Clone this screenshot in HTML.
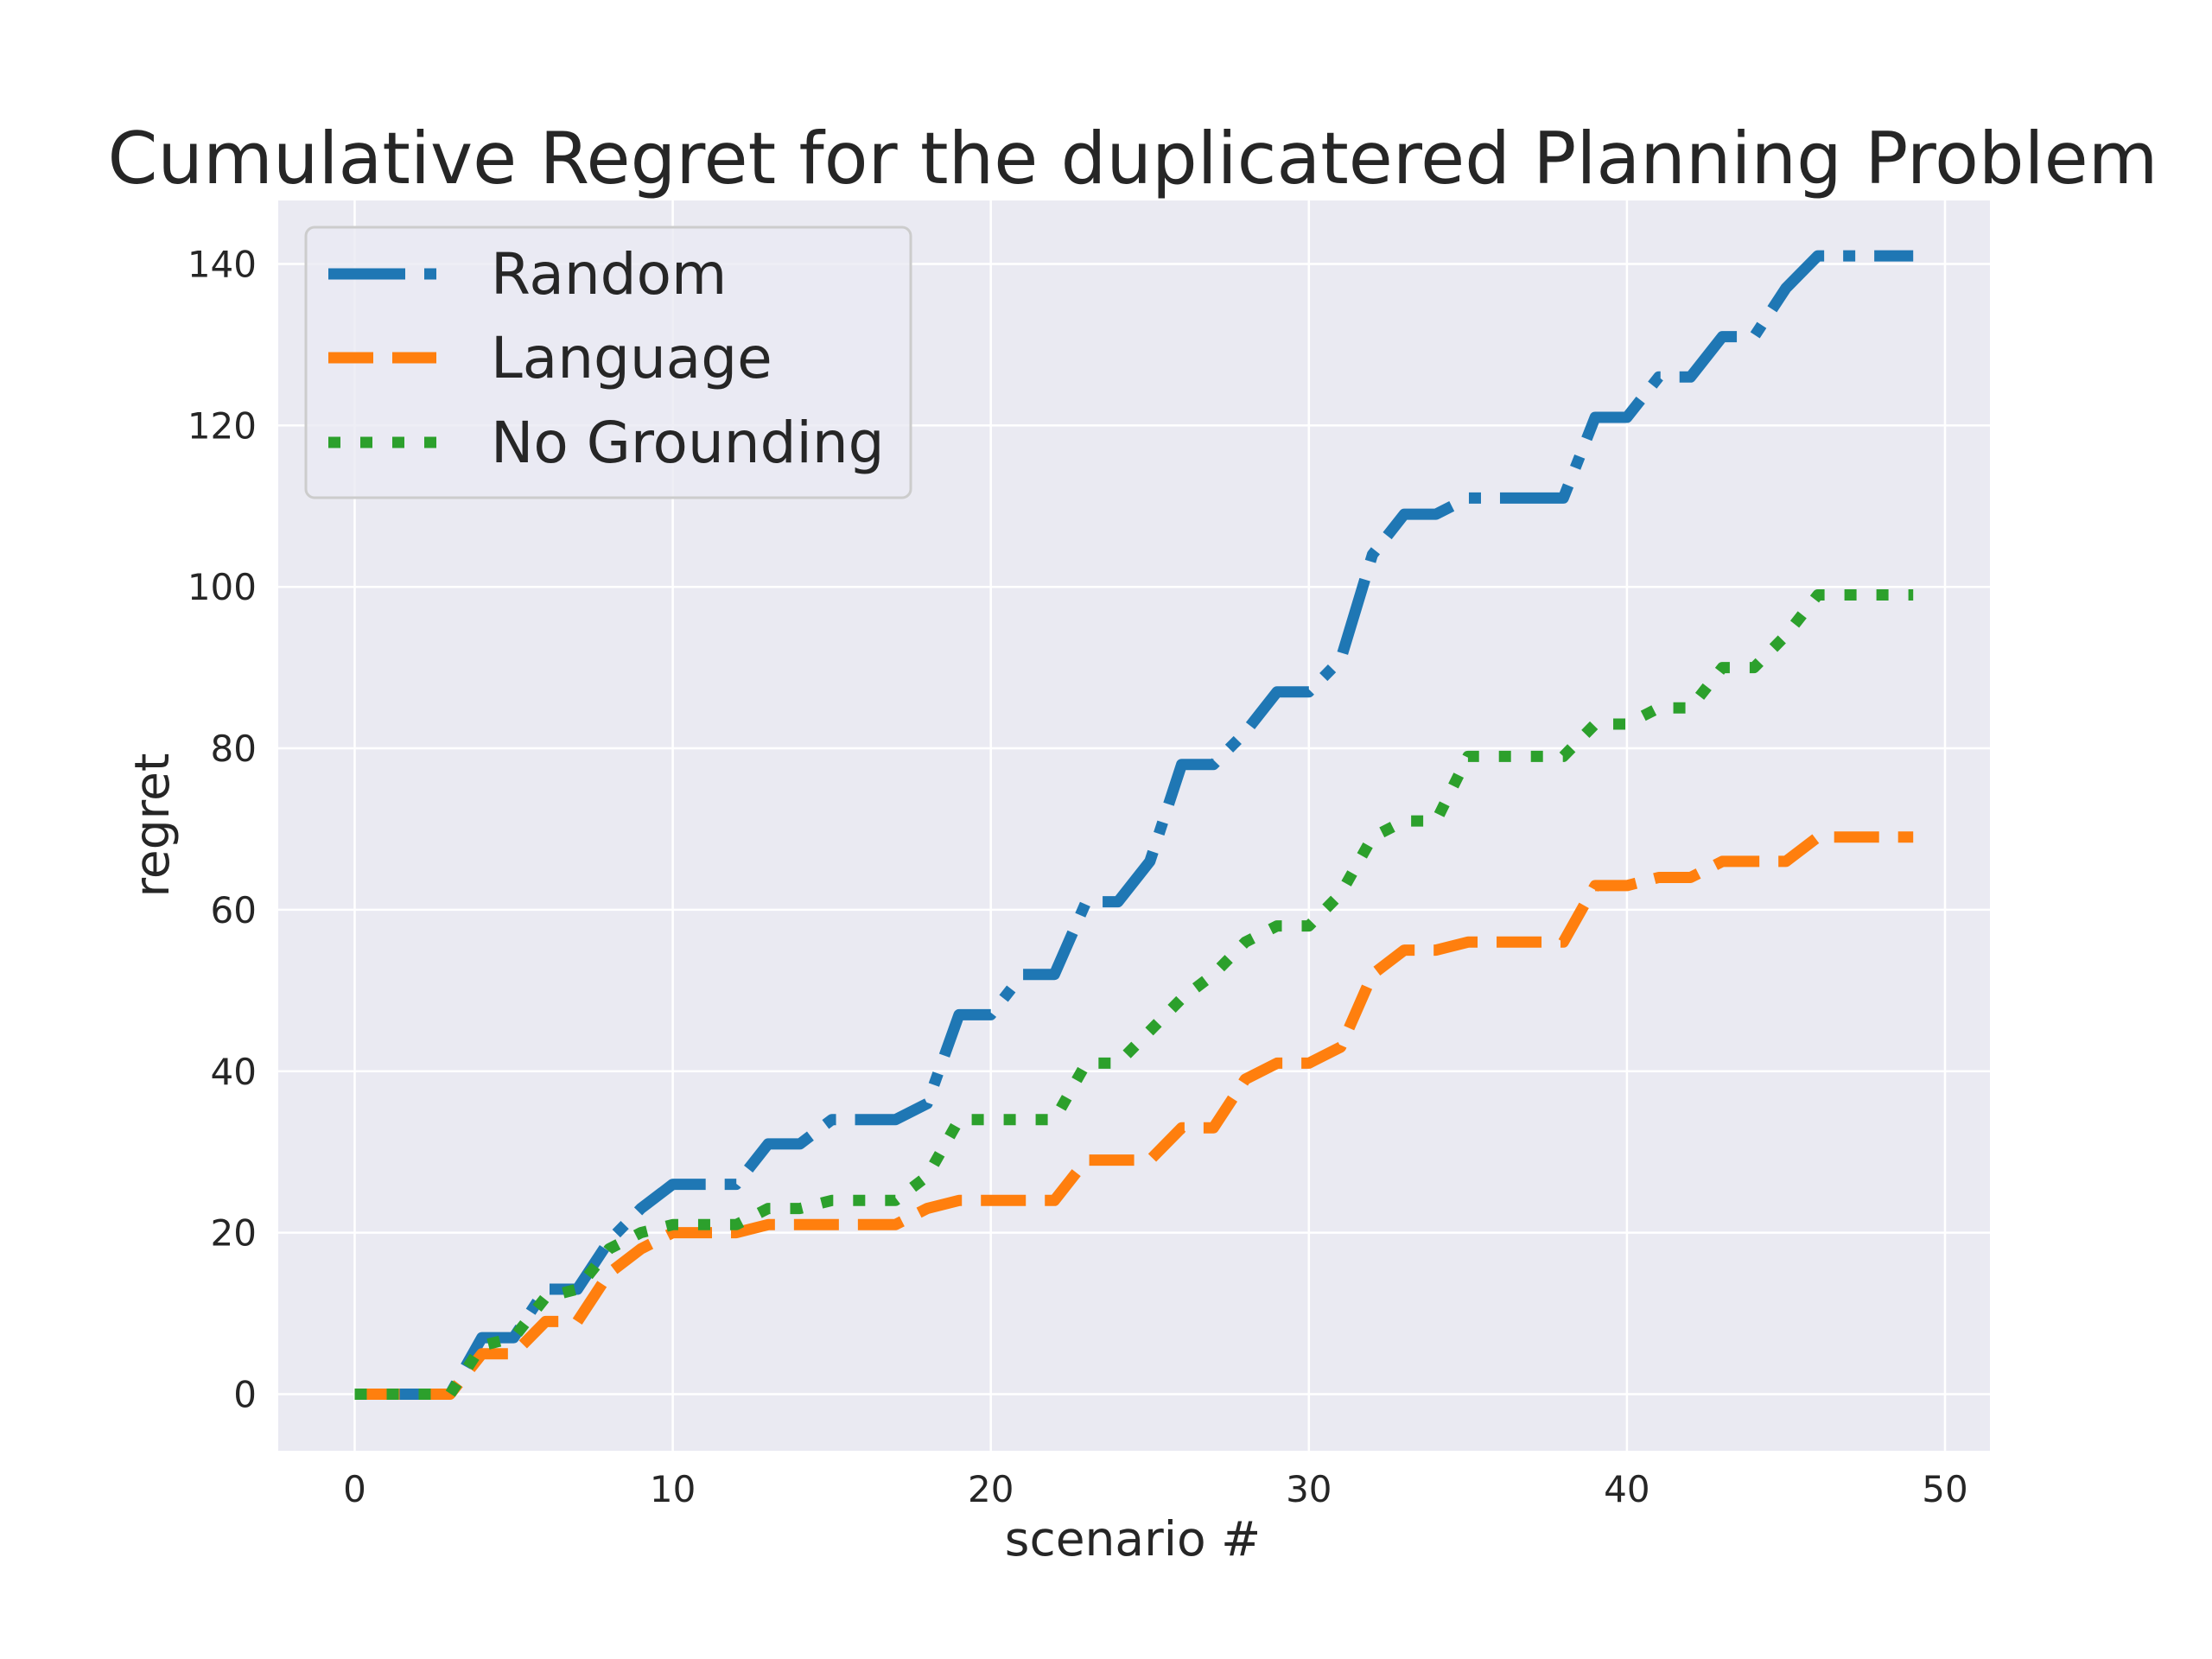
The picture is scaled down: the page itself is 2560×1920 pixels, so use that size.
<!DOCTYPE html>
<html><head><meta charset="utf-8"><style>
html,body{margin:0;padding:0;background:#fff;}
svg{display:block;font-family:"DejaVu Sans","Liberation Sans",sans-serif;}
</style></head><body>
<svg id="chart" width="2560" height="1920" viewBox="0 0 2560 1920" xmlns="http://www.w3.org/2000/svg">
<rect x="0" y="0" width="2560" height="1920" fill="#fff"/>
<rect x="322" y="232" width="1981" height="1447" fill="#eaeaf2"/>
<g id="grid"></g>
<g id="ticks"></g>
<g id="lines"></g>
<text x="1311" y="212" font-size="83" text-anchor="middle" fill="#262626">Cumulative Regret for the duplicatered Planning Problem</text>
<text x="1311" y="1800" font-size="55" text-anchor="middle" fill="#262626">scenario #</text>
<text x="0" y="0" font-size="55" text-anchor="middle" fill="#262626" transform="translate(195,955) rotate(-90)">regret</text>
<g>
<rect x="354" y="263" width="700" height="313" rx="10" fill="#eaeaf2" fill-opacity="0.8" stroke="#cccccc" stroke-width="3"/>
<line x1="380" y1="317" x2="505" y2="317" stroke="#1f77b4" stroke-width="13" stroke-dasharray="89 22 14 22"/>
<text x="568" y="340" font-size="66" fill="#262626">Random</text>
<line x1="380" y1="414" x2="505" y2="414" stroke="#ff7f0e" stroke-width="13" stroke-dasharray="52 22"/>
<text x="568" y="437" font-size="66" fill="#262626">Language</text>
<line x1="380" y1="512" x2="505" y2="512" stroke="#2ca02c" stroke-width="13" stroke-dasharray="14 23"/>
<text x="568" y="535" font-size="66" fill="#262626">No Grounding</text>
</g>
</svg>
<script>
const xTicks = [0,10,20,30,40,50];
const yTicks = [0,20,40,60,80,100,120,140];
const randomVals = [0,0,0,0,7,7,13,13,19,23,26,26,26,31,31,34,34,34,36,47,47,52,52,61,61,66,78,78,82,87,87,91,104,109,109,111,111,111,111,121,121,126,126,131,131,137,141,141,141,141];
const languageVals = [0,0,0,0,5,5,9,9,15,18,20,20,20,21,21,21,21,21,23,24,24,24,24,29,29,29,33,33,39,41,41,43,52,55,55,56,56,56,56,63,63,64,64,66,66,66,69,69,69,69];
const noGroundingVals = [0,0,0,0,6,7,12,13,18,20,21,21,21,23,23,24,24,24,27,34,34,34,34,41,41,45,49,52,56,58,58,62,69,71,71,79,79,79,79,83,83,85,85,90,90,94,99,99,99,99];

const NS = "http://www.w3.org/2000/svg";
function xs(v){ return 410.5 + v * 36.81; }
function ys(v){ return 1613.5 - v * 9.343; }

const grid = document.getElementById('grid');
const ticks = document.getElementById('ticks');
const lines = document.getElementById('lines');

xTicks.forEach(t => {
  const l = document.createElementNS(NS,'line');
  
  
  l.setAttribute('x1',xs(t)); l.setAttribute('x2',xs(t));
  l.setAttribute('y1',232); l.setAttribute('y2',1679);
  l.setAttribute('stroke','#fff'); l.setAttribute('stroke-width','2.5');
  grid.appendChild(l);
  const tx = document.createElementNS(NS,'text');
  
  
  tx.setAttribute('x',xs(t)); tx.setAttribute('y',1738);
  tx.setAttribute('font-size','42'); tx.setAttribute('text-anchor','middle'); tx.setAttribute('fill','#262626');
  tx.textContent = t;
  ticks.appendChild(tx);
});
yTicks.forEach(t => {
  const l = document.createElementNS(NS,'line');
  
  
  l.setAttribute('x1',322); l.setAttribute('x2',2303);
  l.setAttribute('y1',ys(t)); l.setAttribute('y2',ys(t));
  l.setAttribute('stroke','#fff'); l.setAttribute('stroke-width','2.5');
  grid.appendChild(l);
  const tx = document.createElementNS(NS,'text');
  
  
  tx.setAttribute('x',297); tx.setAttribute('y',ys(t)+15);
  tx.setAttribute('font-size','42'); tx.setAttribute('text-anchor','end'); tx.setAttribute('fill','#262626');
  tx.textContent = t;
  ticks.appendChild(tx);
});

function drawSeries(vals, color, dash, name){
  const p = document.createElementNS(NS,'polyline');
  
  
  p.setAttribute('points', vals.map((v,i)=> xs(i).toFixed(1)+','+ys(v).toFixed(1)).join(' '));
  p.setAttribute('fill','none');
  p.setAttribute('stroke',color);
  p.setAttribute('stroke-width','13');
  p.setAttribute('stroke-dasharray',dash);
  p.setAttribute('stroke-linejoin','round');
  lines.appendChild(p);
}
drawSeries(randomVals,'#1f77b4','89 22 14 22','line-random');
drawSeries(languageVals,'#ff7f0e','52 22','line-language');
drawSeries(noGroundingVals,'#2ca02c','14 23','line-no-grounding');
</script>
</body></html>
